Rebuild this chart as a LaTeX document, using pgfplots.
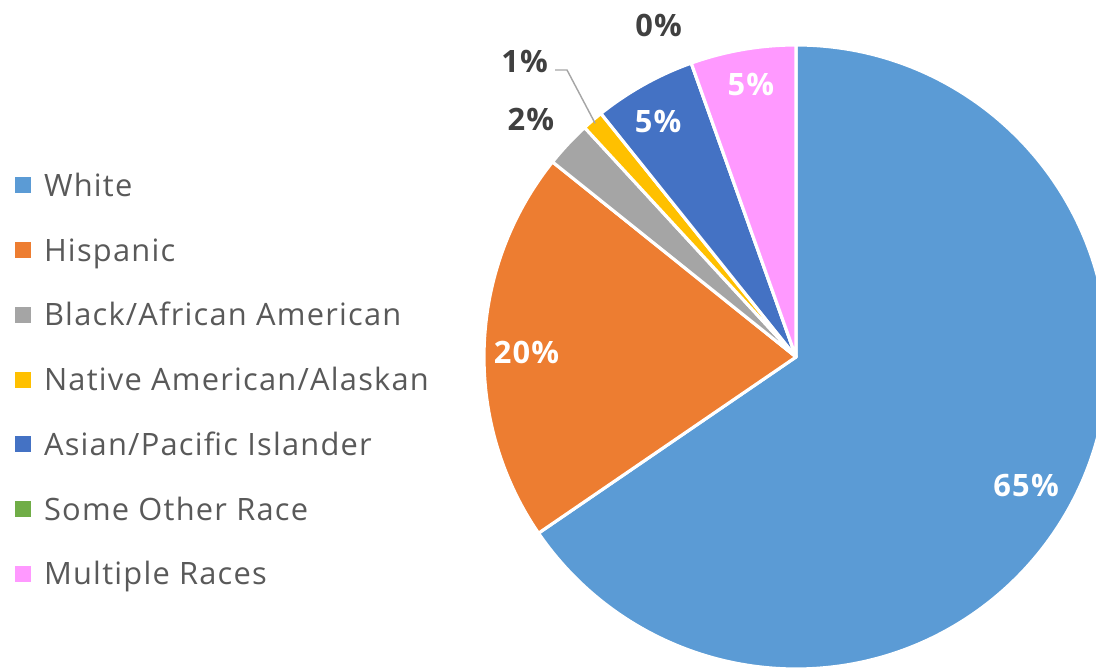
\documentclass[border=0pt]{standalone}
\usepackage{fontspec}
\setmainfont{Open Sans}[LetterSpace=4.0]
\usepackage{pgfplots}
\usepackage{pgfplotstable}
\pgfplotsset{compat=1.18}
\usetikzlibrary{calc}

\definecolor{c0}{HTML}{5B9BD5}
\definecolor{c1}{HTML}{ED7D31}
\definecolor{c2}{HTML}{A5A5A5}
\definecolor{c3}{HTML}{FFC000}
\definecolor{c4}{HTML}{4472C4}
\definecolor{c5}{HTML}{70AD47}
\definecolor{c6}{HTML}{FF99FF}
\definecolor{legtext}{HTML}{595959}
\definecolor{lbldark}{HTML}{404040}
\definecolor{leadergray}{HTML}{A6A6A6}

% share in percent, label radius (x pie radius), label angle shift, label colour
\pgfplotstableread{
group    value lr    da    lc
White    65.45 0.845 -1.4  white
Hispanic 20.30 0.864 1.1   white
Black    2.40  1.141 1.15  lbldark
Native   1.10  1.287 1.85  lbldark
Asian    5.30  0.875 1.2   white
Other    0.00  1.149 2.93  lbldark
Multiple 5.45  0.884 -0.4  white
}\racedata

\begin{document}
\begin{tikzpicture}
\useasboundingbox (0,0) rectangle (16cm,9.7956cm);
\begin{axis}[
    at={(0,0)}, anchor=south west,
    scale only axis, width=16cm, height=9.7956cm,
    xmin=0, xmax=1096, ymin=0, ymax=671,
    hide axis, clip=false,
    legend style={
        at={(0.01369,0.4277)}, anchor=west,
        draw=none, fill=none, inner sep=0pt, outer sep=0pt,
        font=\fontsize{12.8}{15}\selectfont, text=legtext,
        row sep=16.4pt, column sep=1.9mm,
        nodes={inner sep=0pt, text height=0.8em, text depth=0.25em},
        cells={anchor=base west},
    },
    legend image code/.code={\fill[#1] (0cm,0.05cm) rectangle (0.22cm,0.27cm);},
]
\addlegendimage{c0}\addlegendentry{White}
\addlegendimage{c1}\addlegendentry{Hispanic}
\addlegendimage{c2}\addlegendentry{Black/African American}
\addlegendimage{c3}\addlegendentry{Native American/Alaskan}
\addlegendimage{c4}\addlegendentry{Asian/Pacific Islander}
\addlegendimage{c5}\addlegendentry{Some Other Race}
\addlegendimage{c6}\addlegendentry{Multiple Races}

\def\sa{90}
\pgfplotsforeachungrouped \i in {0,...,6}{%
    \pgfplotstablegetelem{\i}{value}\of\racedata \let\v\pgfplotsretval
    \pgfplotstablegetelem{\i}{lr}\of\racedata \let\lr\pgfplotsretval
    \pgfplotstablegetelem{\i}{da}\of\racedata \let\da\pgfplotsretval
    \pgfplotstablegetelem{\i}{lc}\of\racedata \let\lc\pgfplotsretval
    \pgfmathsetmacro\ea{\sa-3.6*\v}
    \pgfmathsetmacro\mm{(\sa+\ea)/2}
    \pgfmathsetmacro\ma{\mm+\da}
    \pgfmathsetmacro\lrad{\lr*4.5547}
    \pgfmathtruncatemacro\pct{round(\v)}
    \ifnum\i=3 \let\nmid\mm \fi
    \edef\slice{%
        \noexpand\fill[c\i, draw=white, line width=1.3pt, line join=round]
            (axis cs:796,314) -- ++(\sa:4.5547cm)
            arc[start angle=\sa, end angle=\ea, radius=4.5547cm] -- cycle;
        \noexpand\path (axis cs:796,314) ++(\ma:\lrad cm)
            node[text=\lc, font=\noexpand\fontsize{12.8}{15}\noexpand\selectfont\noexpand\bfseries] {\pct\noexpand\%};
    }%
    \slice
    \let\sa\ea
}
\edef\leader{\noexpand\draw[leadergray, line width=0.6pt]
    (axis cs:555,601) -- (axis cs:567,601) -- ($(axis cs:796,314)+(\nmid:4.50cm)$);}
\leader
\end{axis}
\end{tikzpicture}
\end{document}
